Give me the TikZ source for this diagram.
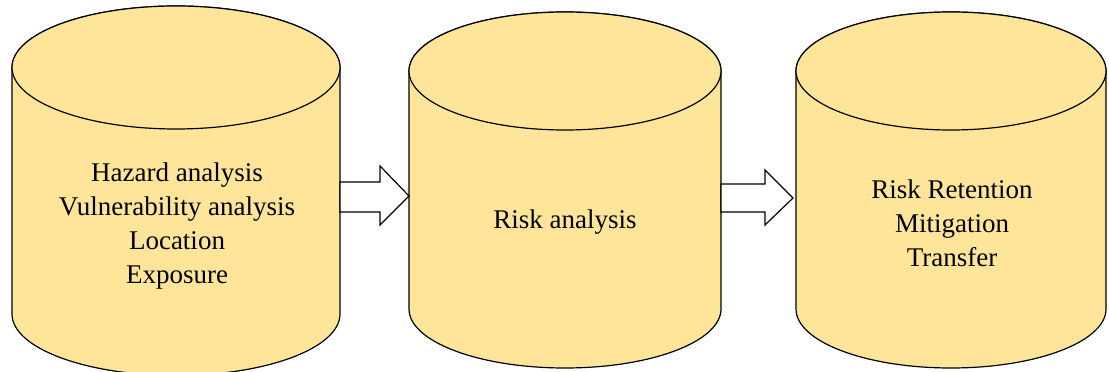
\documentclass[tikz,border=0pt]{standalone}
\usepackage{fontspec}
\setmainfont{Liberation Serif}
\definecolor{cylfill}{HTML}{FFE599}
\begin{document}
\begin{tikzpicture}[x=1pt,y=1pt,
  cyl/.style={draw=black, fill=cylfill, line width=1.2pt, line join=round},
  blockarrow/.style={draw=black, fill=white, line width=1.2pt, line join=miter},
  lbl/.style={align=center, font=\fontsize{27}{34}\selectfont, text=black, inner sep=0pt}]
\useasboundingbox (0,0) rectangle (1109,372);
\begin{scope}
\clip (0,0) rectangle (1109,372);
% cylinder 1
\path[cyl] (12,304.5) -- (12,58) arc[start angle=180,end angle=360,x radius=164,y radius=61.5] -- (340,304.5) arc[start angle=0,end angle=180,x radius=164,y radius=61.5] -- cycle;
\draw[cyl] (176,304.5) ellipse[x radius=164,y radius=61.5];
% cylinder 2
\path[cyl] (409,301) -- (409,63) arc[start angle=180,end angle=360,x radius=156,y radius=59] -- (721,301) arc[start angle=0,end angle=180,x radius=156,y radius=59] -- cycle;
\draw[cyl] (565,301) ellipse[x radius=156,y radius=59];
% cylinder 3
\path[cyl] (796,301) -- (796,63) arc[start angle=180,end angle=360,x radius=155,y radius=59] -- (1106,301) arc[start angle=0,end angle=180,x radius=155,y radius=59] -- cycle;
\draw[cyl] (951,301) ellipse[x radius=155,y radius=59];
\end{scope}
% block arrows
\draw[blockarrow] (340,190) -- (380,190) -- (380,206) -- (409,176) -- (380,147) -- (380,160) -- (340,160) -- cycle;
\draw[blockarrow] (721,188) -- (765,188) -- (765,202) -- (793,174) -- (765,147) -- (765,160) -- (721,160) -- cycle;
% labels
\node[lbl] (t1) at (177,146) {Hazard analysis\\Vulnerability analysis\\Location\\Exposure};
\node[lbl] (t2) at (565,150) {Risk analysis};
\node[lbl] (t3) at (952,149) {Risk Retention\\Mitigation\\Transfer};
\end{tikzpicture}
\end{document}
